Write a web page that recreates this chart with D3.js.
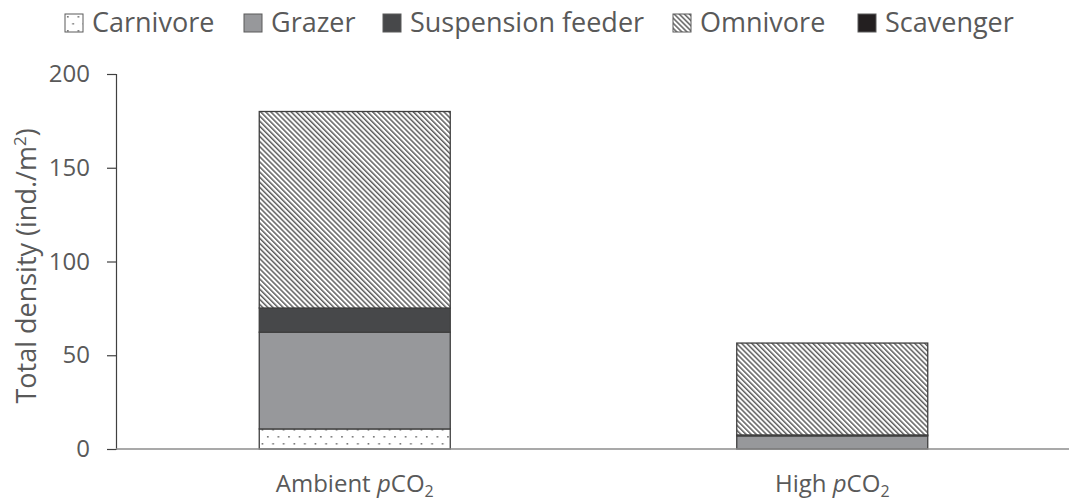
<!DOCTYPE html>
<html>
<head>
<meta charset="utf-8">
<script src="https://cdn.jsdelivr.net/npm/d3@7"></script>
<style>
  body { margin: 0; background: #fff; }
  text { font-family: "Open Sans", sans-serif; fill: #595959; }
</style>
</head>
<body>
<svg id="chart" width="1069" height="503"></svg>
<script>
// data
var groups = ['Ambient', 'High'];
var feedingTypes = ['Carnivore', 'Grazer', 'Suspension feeder', 'Omnivore', 'Scavenger'];
var carnivore = [10.7, 0];
var grazer = [51.6, 7.0];
var suspensionFeeder = [12.9, 0.5];
var omnivore = [104.8, 49.0];
var scavenger = [0, 0];
var yTicks = [0, 50, 100, 150, 200];

var series = {
  'Carnivore': carnivore,
  'Grazer': grazer,
  'Suspension feeder': suspensionFeeder,
  'Omnivore': omnivore,
  'Scavenger': scavenger
};

var rows = groups.map(function (g, i) {
  var r = { group: g };
  feedingTypes.forEach(function (k) { r[k] = series[k][i]; });
  return r;
});

var fills = {
  'Carnivore': 'url(#dots)',
  'Grazer': '#97989b',
  'Suspension feeder': '#47484a',
  'Omnivore': 'url(#hatch)',
  'Scavenger': '#231f20'
};

var svg = d3.select('#chart');

// patterns
var defs = svg.append('defs');
var dots = defs.append('pattern')
  .attr('id', 'dots')
  .attr('patternUnits', 'userSpaceOnUse')
  .attr('width', 10.6).attr('height', 14);
dots.append('rect').attr('width', 10.6).attr('height', 14).attr('fill', '#fff');
dots.append('rect').attr('x', 2).attr('y', 2).attr('width', 1.6).attr('height', 1.6).attr('fill', '#6f6f6f');
dots.append('rect').attr('x', 7.3).attr('y', 9).attr('width', 1.6).attr('height', 1.6).attr('fill', '#6f6f6f');

var hatch = defs.append('pattern')
  .attr('id', 'hatch')
  .attr('patternUnits', 'userSpaceOnUse')
  .attr('width', 3.6).attr('height', 3.6)
  .attr('patternTransform', 'rotate(-45)');
hatch.append('rect').attr('width', 3.6).attr('height', 3.6).attr('fill', '#fff');
hatch.append('rect').attr('x', 0).attr('y', 0).attr('width', 1.5).attr('height', 3.6).attr('fill', '#5e5e5e');

var margin = { left: 116, right: 0, top: 74, bottom: 54 };
var width = 1069, height = 503;

var x = d3.scaleBand()
  .domain(groups)
  .range([margin.left, margin.left + 955])
  .paddingInner(0.6)
  .paddingOuter(0.3);

var y = d3.scaleLinear()
  .domain([0, 200])
  .range([height - margin.bottom, margin.top]);

var stack = d3.stack().keys(feedingTypes);
var stacked = stack(rows);

// bars
var layer = svg.selectAll('g.layer')
  .data(stacked)
  .enter()
  .append('g')
  .attr('class', 'layer')
  .attr('fill', function (d) { return fills[d.key]; });

layer.selectAll('rect')
  .data(function (d) { return d.filter(function (s) { return s[1] - s[0] > 0; }); })
  .enter()
  .append('rect')
  .attr('x', function (d) { return x(d.data.group); })
  .attr('y', function (d) { return y(d[1]); })
  .attr('width', x.bandwidth())
  .attr('height', function (d) { return y(d[0]) - y(d[1]); })
  .attr('stroke', '#3f3f3f')
  .attr('stroke-width', 1.3);

// y axis
var yAxis = svg.append('g')
  .attr('transform', 'translate(' + margin.left + ',0)')
  .call(d3.axisLeft(y).tickValues(yTicks).tickSize(9).tickPadding(17));
yAxis.select('.domain').attr('stroke', '#404040').attr('stroke-width', 1.2);
yAxis.selectAll('.tick line').attr('stroke', '#404040').attr('stroke-width', 1.2);
yAxis.selectAll('.tick text')
  .attr('fill', '#595959')
  .style('font-size', '24px')
  .style('font-family', '"Open Sans", sans-serif');

// x axis baseline
svg.append('line')
  .attr('x1', margin.left).attr('x2', width)
  .attr('y1', y(0)).attr('y2', y(0))
  .attr('stroke', '#8c8c8c').attr('stroke-width', 1.5);

// x labels
var xl = svg.selectAll('text.xlab')
  .data(groups)
  .enter()
  .append('text')
  .attr('class', 'xlab')
  .attr('x', function (d) { return x(d) + x.bandwidth() / 2; })
  .attr('y', 492)
  .attr('text-anchor', 'middle')
  .style('font-size', '24px');
xl.append('tspan').text(function (d) { return d + ' '; });
xl.append('tspan').style('font-style', 'italic').text('p');
xl.append('tspan').text('CO');
xl.append('tspan').attr('dy', 5).style('font-size', '16px').text('2');

// y title
var yt = svg.append('text')
  .attr('transform', 'translate(36,' + 266 + ') rotate(-90)')
  .attr('text-anchor', 'middle')
  .style('font-size', '27px');
yt.append('tspan').text('Total density (ind./m');
yt.append('tspan').attr('dy', -10).style('font-size', '17px').text('2');
yt.append('tspan').attr('dy', 10).text(')');

// legend
var legendX = [65, 244, 383, 673, 858];
var legend = svg.selectAll('g.leg')
  .data(feedingTypes)
  .enter()
  .append('g')
  .attr('class', 'leg')
  .attr('transform', function (d, i) { return 'translate(' + legendX[i] + ',14)'; });
legend.append('rect')
  .attr('width', 18).attr('height', 18)
  .attr('fill', function (d) { return fills[d]; })
  .attr('stroke', '#5a5a5a').attr('stroke-width', 1);
legend.append('text')
  .attr('x', 27).attr('y', 18)
  .style('font-size', '27px')
  .text(function (d) { return d; });
</script>
</body>
</html>
